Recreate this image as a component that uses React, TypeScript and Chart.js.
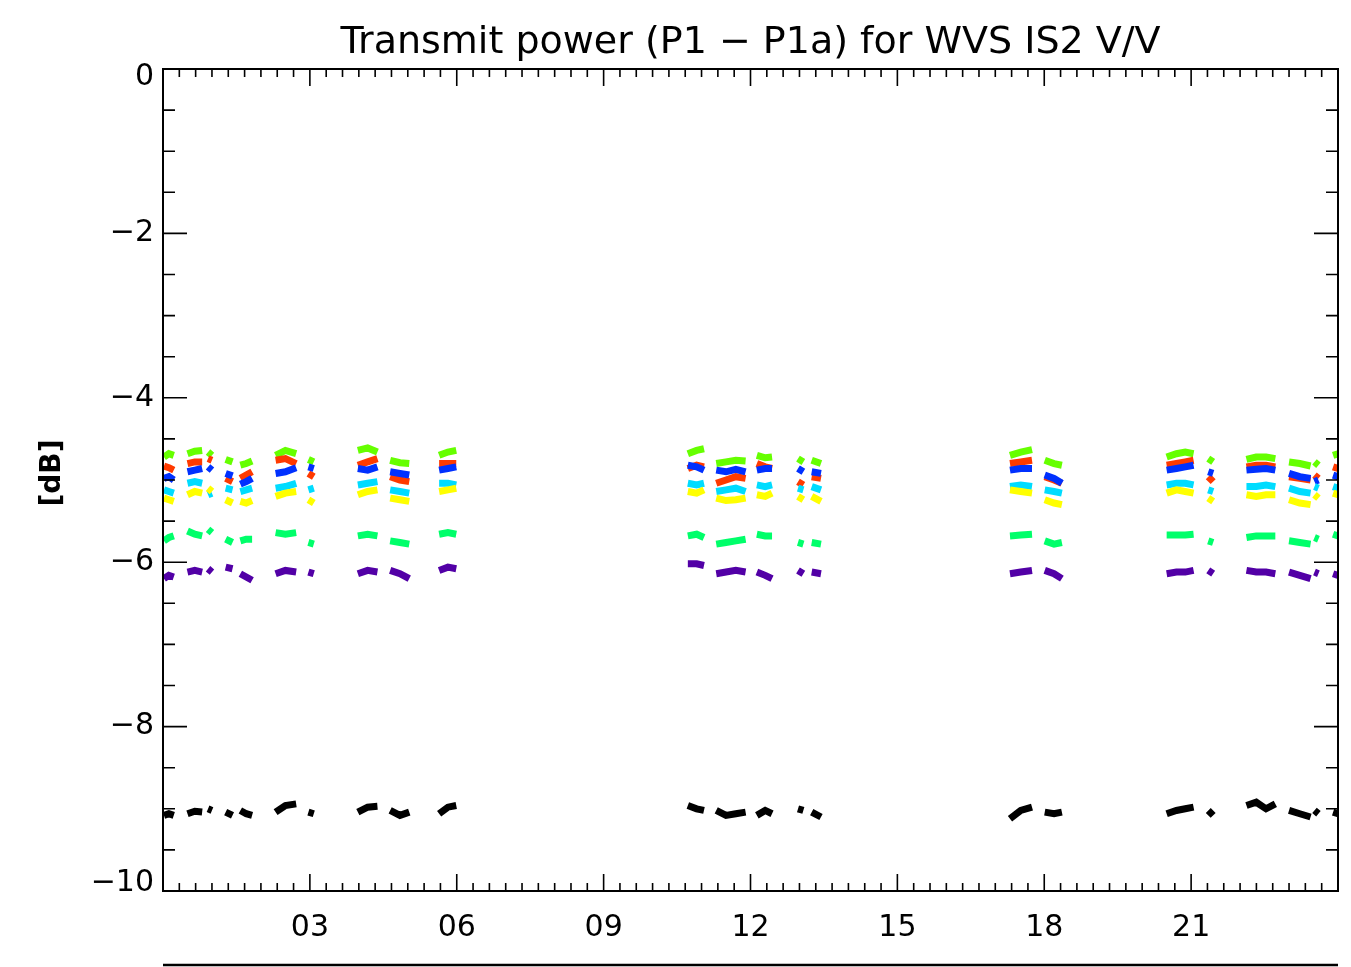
import React, { useEffect, useRef } from 'react';
import { Chart, registerables } from 'chart.js';

Chart.register(...registerables);

const TITLE = 'Transmit power (P1 \u2212 P1a) for WVS IS2 V/V';
const Y_LABEL = '[dB]';
const X_TICK_LABELS = ['03', '06', '09', '12', '15', '18', '21'];
const Y_TICK_VALUES = [-10, -8, -6, -4, -2, 0];
const Y_TICK_LABELS = ['\u221210', '\u22128', '\u22126', '\u22124', '\u22122', '0'];

// number of samples in each continuous data segment (passes)
const segmentSizes = [3, 3, 2, 2, 3, 3, 2, 3, 3, 3, 3, 4, 3, 2, 2, 3, 3, 4, 2, 4, 3, 2, 2];

// time of day, hours
const times = [
  0.02, 0.12, 0.22,
  0.5, 0.65, 0.8,
  0.92, 1.0,
  1.28, 1.42,
  1.58, 1.7, 1.82,
  2.3, 2.5, 2.72,
  2.97, 3.08,
  3.98, 4.18, 4.38,
  4.64, 4.84, 5.03,
  5.64, 5.82, 5.99,
  10.72, 10.9, 11.05,
  11.3, 11.5, 11.7, 11.9,
  12.13, 12.3, 12.44,
  12.97, 13.08,
  13.25, 13.44,
  17.3, 17.52, 17.75,
  18.01, 18.2, 18.36,
  20.5, 20.7, 20.88, 21.05,
  21.35, 21.45,
  22.13, 22.33, 22.53, 22.72,
  23.0, 23.22, 23.44,
  23.52, 23.6,
  23.9, 24.0,
];

const greenSeries = [
  -4.72, -4.68, -4.70,
  -4.68, -4.65, -4.64,
  -4.66, -4.70,
  -4.75, -4.78,
  -4.82, -4.80, -4.77,
  -4.70, -4.64, -4.68,
  -4.75, -4.78,
  -4.64, -4.61, -4.66,
  -4.76, -4.79, -4.80,
  -4.70, -4.66, -4.64,
  -4.68, -4.64, -4.62,
  -4.80, -4.78, -4.76, -4.77,
  -4.70, -4.73, -4.72,
  -4.74, -4.78,
  -4.76, -4.80,
  -4.70, -4.66, -4.63,
  -4.76, -4.80, -4.82,
  -4.72, -4.68, -4.66, -4.68,
  -4.74, -4.78,
  -4.75, -4.72, -4.72, -4.74,
  -4.78, -4.80, -4.83,
  -4.78, -4.82,
  -4.70, -4.68,
];

const redSeries = [
  -4.83, -4.85, -4.88,
  -4.80, -4.78, -4.78,
  -4.74, -4.76,
  -4.98, -5.02,
  -4.98, -4.94, -4.90,
  -4.76, -4.74, -4.80,
  -4.92, -4.96,
  -4.82, -4.78, -4.74,
  -4.96, -5.00, -5.02,
  -4.80, -4.80, -4.80,
  -4.86, -4.82, -4.84,
  -5.04, -5.00, -4.96, -4.98,
  -4.80, -4.84, -4.86,
  -5.02, -5.06,
  -4.96, -4.98,
  -4.80, -4.78, -4.76,
  -4.96, -5.00, -5.04,
  -4.82, -4.80, -4.78, -4.76,
  -4.96, -5.02,
  -4.84, -4.82, -4.82, -4.84,
  -4.96, -4.98, -5.00,
  -4.94, -4.98,
  -4.84, -4.86,
];

const blueSeries = [
  -4.98, -4.96, -5.00,
  -4.90, -4.88, -4.86,
  -4.84, -4.88,
  -4.92, -4.95,
  -5.05, -5.02, -4.98,
  -4.92, -4.90, -4.85,
  -4.84, -4.86,
  -4.86, -4.88, -4.84,
  -4.90, -4.92, -4.94,
  -4.88, -4.86, -4.84,
  -4.82, -4.84, -4.88,
  -4.88, -4.90, -4.87, -4.90,
  -4.88, -4.86, -4.86,
  -4.86, -4.90,
  -4.90, -4.92,
  -4.88, -4.86, -4.86,
  -4.94, -4.98, -5.04,
  -4.88, -4.86, -4.84, -4.82,
  -4.90, -4.92,
  -4.88, -4.87, -4.86, -4.88,
  -4.92, -4.96, -4.98,
  -5.02, -5.00,
  -4.94, -4.96,
];

const cyanSeries = [
  -5.12, -5.14, -5.16,
  -5.04, -5.02, -5.04,
  -5.18, -5.16,
  -5.10, -5.12,
  -5.14, -5.12, -5.10,
  -5.10, -5.08, -5.04,
  -5.12, -5.10,
  -5.06, -5.04, -5.02,
  -5.12, -5.14, -5.16,
  -5.04, -5.04, -5.06,
  -5.04, -5.06, -5.04,
  -5.14, -5.12, -5.10, -5.14,
  -5.06, -5.08, -5.06,
  -5.10, -5.12,
  -5.08, -5.12,
  -5.08, -5.06, -5.08,
  -5.12, -5.14, -5.16,
  -5.06, -5.04, -5.04, -5.06,
  -5.12, -5.14,
  -5.08, -5.08, -5.06, -5.08,
  -5.10, -5.14, -5.16,
  -5.08, -5.10,
  -5.08, -5.10,
];

const yellowSeries = [
  -5.22, -5.24, -5.26,
  -5.18, -5.14, -5.16,
  -5.10, -5.14,
  -5.24, -5.28,
  -5.26, -5.28, -5.25,
  -5.20, -5.16, -5.14,
  -5.24, -5.28,
  -5.18, -5.14, -5.12,
  -5.22, -5.24, -5.26,
  -5.14, -5.12, -5.10,
  -5.14, -5.16, -5.12,
  -5.22, -5.25, -5.24, -5.22,
  -5.18, -5.20, -5.16,
  -5.20, -5.24,
  -5.20, -5.26,
  -5.12, -5.14, -5.16,
  -5.24, -5.28, -5.30,
  -5.16, -5.12, -5.14, -5.16,
  -5.22, -5.26,
  -5.18, -5.20, -5.18, -5.18,
  -5.24, -5.28, -5.30,
  -5.18, -5.22,
  -5.16, -5.18,
];

const springSeries = [
  -5.74, -5.70, -5.68,
  -5.62, -5.66, -5.68,
  -5.60, -5.64,
  -5.72, -5.76,
  -5.74, -5.72, -5.72,
  -5.64, -5.66, -5.64,
  -5.76, -5.78,
  -5.68, -5.66, -5.68,
  -5.74, -5.76, -5.78,
  -5.66, -5.64, -5.66,
  -5.68, -5.66, -5.70,
  -5.78, -5.76, -5.74, -5.72,
  -5.66, -5.68, -5.68,
  -5.76, -5.78,
  -5.76, -5.78,
  -5.68, -5.67, -5.66,
  -5.74, -5.78, -5.76,
  -5.67, -5.67, -5.67, -5.66,
  -5.74, -5.76,
  -5.70, -5.68, -5.68, -5.68,
  -5.74, -5.76, -5.78,
  -5.70, -5.72,
  -5.66, -5.68,
];

const purpleSeries = [
  -6.20, -6.16, -6.18,
  -6.12, -6.10, -6.12,
  -6.08, -6.12,
  -6.06, -6.08,
  -6.14, -6.18, -6.22,
  -6.14, -6.10, -6.12,
  -6.12, -6.14,
  -6.14, -6.10, -6.12,
  -6.10, -6.14, -6.20,
  -6.10, -6.06, -6.08,
  -6.02, -6.02, -6.04,
  -6.14, -6.12, -6.10, -6.12,
  -6.12, -6.16, -6.20,
  -6.10, -6.14,
  -6.12, -6.14,
  -6.14, -6.12, -6.10,
  -6.10, -6.14, -6.20,
  -6.14, -6.12, -6.12, -6.10,
  -6.10, -6.14,
  -6.10, -6.12, -6.12, -6.14,
  -6.12, -6.16, -6.20,
  -6.12, -6.14,
  -6.14, -6.16,
];

const blackSeries = [
  -9.08, -9.06, -9.08,
  -9.06, -9.03, -9.04,
  -9.00, -9.02,
  -9.04, -9.08,
  -9.02, -9.06, -9.08,
  -9.04, -8.96, -8.94,
  -9.04, -9.06,
  -9.04, -8.98, -8.97,
  -9.02, -9.08, -9.04,
  -9.06, -8.98, -8.96,
  -8.96, -9.00, -9.02,
  -9.02, -9.08, -9.06, -9.04,
  -9.08, -9.02, -9.06,
  -9.00, -9.02,
  -9.04, -9.10,
  -9.12, -9.02, -8.98,
  -9.04, -9.06, -9.04,
  -9.06, -9.02, -9.00, -8.98,
  -9.02, -9.08,
  -8.96, -8.92, -9.00, -8.94,
  -9.02, -9.06, -9.10,
  -9.02, -9.06,
  -9.04, -9.06,
];

const SERIES = [
  { name: 'black', values: blackSeries, color: '#000000' },
  { name: 'purple', values: purpleSeries, color: '#5200a6' },
  { name: 'spring', values: springSeries, color: '#00ff6a' },
  { name: 'yellow', values: yellowSeries, color: '#ffff00' },
  { name: 'cyan', values: cyanSeries, color: '#00dcff' },
  { name: 'blue', values: blueSeries, color: '#0030ff' },
  { name: 'red', values: redSeries, color: '#ff3a00' },
  { name: 'green', values: greenSeries, color: '#66ff00' },
];

function buildPoints(values: number[]) {
  const out: { x: number; y: number | null }[] = [];
  let i = 0;
  segmentSizes.forEach((n, s) => {
    if (s > 0) out.push({ x: (times[i - 1] + times[i]) / 2, y: null });
    for (let k = 0; k < n; k++) {
      out.push({ x: times[i], y: values[i] });
      i++;
    }
  });
  return out;
}

const FONT = '"DejaVu Sans", "Liberation Sans", sans-serif';

const framePlugin = {
  id: 'idlFrame',
  afterDraw(chart: any) {
    const { ctx, chartArea: a, scales } = chart;
    const x = scales.x;
    const y = scales.y;
    ctx.save();
    ctx.strokeStyle = '#000';
    ctx.lineWidth = 2;
    ctx.strokeRect(a.left, a.top, a.right - a.left, a.bottom - a.top);
    ctx.lineWidth = 1.6;
    ctx.beginPath();
    for (let k = 0; k <= 72; k++) {
      const px = x.getPixelForValue(k / 3);
      const len = k % 9 === 0 ? 17 : 8;
      ctx.moveTo(px, a.bottom);
      ctx.lineTo(px, a.bottom - len);
      ctx.moveTo(px, a.top);
      ctx.lineTo(px, a.top + len);
    }
    for (let k = 0; k <= 20; k++) {
      const py = y.getPixelForValue(-k * 0.5);
      const len = k % 4 === 0 ? 24 : 12;
      ctx.moveTo(a.left, py);
      ctx.lineTo(a.left + len, py);
      ctx.moveTo(a.right, py);
      ctx.lineTo(a.right - len, py);
    }
    ctx.stroke();

    ctx.fillStyle = '#000';

    // y tick labels (end labels nudged inward, as in the original)
    ctx.font = `30px ${FONT}`;
    ctx.textAlign = 'right';
    ctx.textBaseline = 'middle';
    Y_TICK_VALUES.forEach((v, i) => {
      let py = y.getPixelForValue(v);
      if (i === 0) py -= 8;
      if (i === Y_TICK_VALUES.length - 1) py += 8;
      ctx.fillText(Y_TICK_LABELS[i], a.left - 9, py);
    });

    // title
    ctx.font = `38px ${FONT}`;
    ctx.textAlign = 'center';
    ctx.textBaseline = 'alphabetic';
    ctx.fillText(TITLE, (a.left + a.right) / 2, 53);

    // y label
    ctx.save();
    ctx.translate(53, (a.top + a.bottom) / 2 - 7);
    ctx.rotate(-Math.PI / 2);
    ctx.font = `bold 28px ${FONT}`;
    ctx.textBaseline = 'middle';
    ctx.fillText(Y_LABEL, 0, 0);
    ctx.restore();

    // top edge of the next panel
    ctx.lineWidth = 2.5;
    ctx.beginPath();
    ctx.moveTo(a.left, 965);
    ctx.lineTo(a.right, 965);
    ctx.stroke();
    ctx.restore();
  },
};

export default function App() {
  const ref = useRef<HTMLCanvasElement>(null);
  useEffect(() => {
    document.body.style.margin = '0';
    document.body.style.overflow = 'hidden';
    const canvas = ref.current;
    if (!canvas) return;
    const chart = new Chart(canvas, {
      type: 'scatter',
      data: {
        datasets: SERIES.map((s) => ({
          label: s.name,
          data: buildPoints(s.values),
          showLine: true,
          spanGaps: false,
          borderColor: s.color,
          backgroundColor: s.color,
          borderWidth: 7,
          pointRadius: 0,
          pointHoverRadius: 0,
        })),
      },
      options: {
        animation: false,
        responsive: false,
        maintainAspectRatio: false,
        layout: { padding: { top: 69, right: 13, bottom: 0, left: 0 } },
        plugins: {
          legend: { display: false },
          title: { display: false },
          tooltip: { enabled: false },
        },
        scales: {
          x: {
            type: 'linear',
            min: 0,
            max: 24,
            grid: { display: false, drawTicks: false },
            border: { display: false },
            ticks: {
              stepSize: 3,
              autoSkip: false,
              maxRotation: 0,
              padding: 19,
              color: '#000',
              font: { family: FONT, size: 30 },
              callback: (v: any) => {
                const i = Math.round(Number(v) / 3) - 1;
                return i >= 0 && i < X_TICK_LABELS.length ? X_TICK_LABELS[i] : '';
              },
            },
            afterFit: (s: any) => {
              s.height = 76;
              s.paddingLeft = 0;
              s.paddingRight = 0;
            },
          },
          y: {
            type: 'linear',
            min: -10,
            max: 0,
            grid: { display: false, drawTicks: false },
            border: { display: false },
            ticks: { display: false, stepSize: 2 },
            afterFit: (s: any) => {
              s.width = 163;
              s.paddingTop = 0;
              s.paddingBottom = 0;
            },
          },
        },
      },
      plugins: [framePlugin],
    } as any);
    return () => chart.destroy();
  }, []);
  return <canvas ref={ref} width={1351} height={967} style={{ display: 'block' }} />;
}
